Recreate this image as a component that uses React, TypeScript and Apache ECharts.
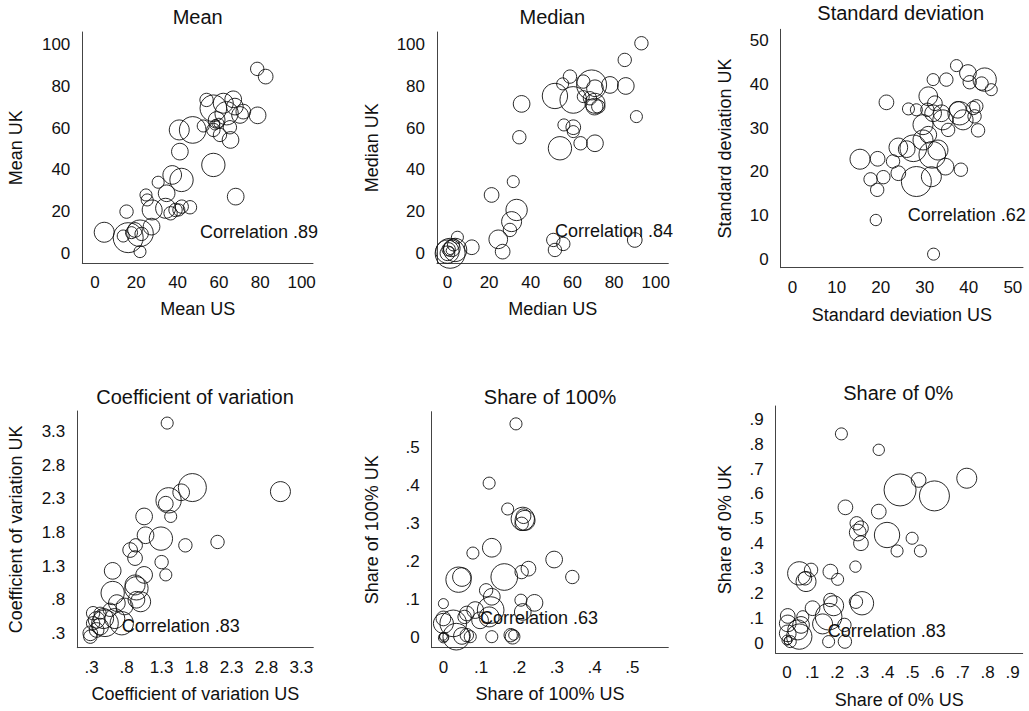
import React, { useEffect, useRef } from "react";
import * as echarts from "echarts";

// ---- Data: [US value, UK value, weight] ----
const meanData = [
  [78.5, 88.5, 20], [82.6, 84.8, 22], [78.7, 66.2, 25], [68.1, 27.2, 25], [57.3, 42.4, 35], [41.1, 48.8, 25],
  [40.8, 59.2, 30], [47.3, 59.2, 40], [41.9, 35.2, 35], [37.4, 37.6, 28], [30.6, 34.1, 18], [34.7, 28.8, 25],
  [24.7, 28, 18], [25.3, 25.6, 18], [34.2, 21.6, 30], [36.6, 19.2, 20], [39, 20.8, 20], [40.6, 20.8, 18],
  [46, 22.1, 20], [42, 22.4, 20], [27.7, 20.8, 30], [27.4, 12.8, 25], [15.3, 20, 20], [4.5, 10.1, 30],
  [13.7, 8.3, 18], [16.1, 7.5, 45], [21.8, 9.6, 40], [19.4, 11.2, 22], [22.6, 9.3, 20], [17.7, 9.9, 18],
  [21.8, 0.8, 18], [54, 73.6, 20], [57.3, 69.6, 40], [66.9, 73.9, 25], [62.1, 72, 30], [67.7, 70.4, 25],
  [71.8, 68, 22], [70.2, 66.4, 25], [58.9, 64, 25], [58, 61.6, 15], [58.5, 62.4, 12], [52.4, 61.1, 18],
  [60, 62.4, 15], [65.3, 60.5, 20], [65.6, 54.4, 25], [60.5, 56.8, 20], [57.3, 59.2, 20], [63.7, 67.2, 35],
];
const medianData = [
  [93.1, 100.8, 20], [85.1, 92.8, 20], [85.6, 80.3, 25], [90.7, 65.6, 18], [89.9, 6.4, 22], [50.8, 6.4, 20],
  [51.6, 1.6, 20], [55.6, 4.5, 20], [54, 50.4, 35], [55.9, 61.6, 18], [60.4, 60.5, 22], [60.4, 58.4, 18],
  [63.9, 52.8, 20], [70.8, 52.8, 25], [51.6, 75.5, 38], [58.8, 84.8, 20], [55.3, 81.3, 18], [60.4, 73.6, 40],
  [65.2, 82.4, 20], [69.2, 80.8, 45], [70.8, 79.2, 25], [78, 80.8, 25], [65.2, 75.2, 18], [68.4, 74.4, 20],
  [70.8, 72, 30], [72.4, 70.4, 20], [70.6, 70.4, 25], [35.6, 71.7, 25], [34.5, 55.7, 20], [31.6, 34.4, 18],
  [21.2, 28, 22], [33.2, 20.8, 32], [30.8, 15.2, 30], [30, 11.2, 20], [24.4, 6.7, 28], [26.5, 0.8, 22],
  [11.7, 2.9, 22], [0, 0.8, 35], [1.3, 0, 45], [2.1, 2.4, 25], [2.9, 4, 18], [4.8, 7.7, 18], [3.7, 1.6, 35],
  [0, 0, 22], [1.3, 1.3, 12], [0.6, 1.9, 20],
];
const sdData = [
  [32, 1.2, 18], [18.9, 9, 17], [19.2, 15.9, 20], [17.7, 18.3, 20], [20.6, 18.8, 20], [15.3, 22.9, 30],
  [19.3, 23, 22], [22.8, 22.4, 20], [24, 19.7, 22], [28.1, 17.8, 45], [31.5, 18.9, 30], [34.7, 21.2, 25],
  [38.2, 20.5, 20], [31.7, 23.9, 40], [33, 25, 30], [24, 25.6, 28], [25.9, 25.2, 25], [27.4, 25.4, 40],
  [29.6, 27.3, 30], [30.8, 28.5, 25], [29.6, 30.8, 30], [30.8, 37.3, 28], [21.3, 35.9, 22], [31.9, 41.1, 18],
  [34.9, 41.1, 20], [26.3, 34.4, 18], [28.1, 34.2, 18], [32.3, 35.7, 22], [31.9, 33.4, 25], [33.8, 33.4, 25],
  [34.1, 31.9, 30], [35.3, 29.6, 20], [37.9, 33.4, 35], [38.7, 31.9, 30], [37.5, 34.2, 25], [41, 34.6, 20],
  [41.7, 35, 20], [42.1, 29.5, 20], [37.2, 44.3, 18], [39.8, 42.6, 25], [40.2, 40.5, 20], [42.9, 40.2, 20],
  [43.6, 41.1, 35], [45.1, 38.8, 18], [41.3, 32.7, 20], [30.6, 34.2, 20],
];
const cvData = [
  [1.38, 3.43, 18], [3.0, 2.41, 30], [1.74, 2.47, 42], [1.58, 2.4, 25], [1.4, 2.28, 38], [1.36, 2.23, 22],
  [1.43, 2.04, 18], [1.05, 2.04, 25], [1.07, 1.76, 25], [1.29, 1.71, 35], [0.93, 1.61, 20], [0.85, 1.54, 22],
  [0.92, 1.42, 22], [1.64, 1.61, 20], [2.1, 1.66, 20], [1.3, 1.36, 20], [1.36, 1.17, 18], [1.05, 1.17, 25],
  [0.6, 1.23, 25], [0.92, 1.02, 30], [0.94, 0.97, 35], [0.6, 0.9, 35], [1.0, 0.77, 30], [0.94, 0.8, 25],
  [0.77, 0.7, 25], [0.66, 0.75, 25], [0.56, 0.65, 20], [0.42, 0.6, 18], [0.32, 0.6, 20], [0.37, 0.5, 25],
  [0.47, 0.52, 30], [0.63, 0.52, 30], [0.73, 0.45, 35], [0.42, 0.4, 25], [0.28, 0.3, 22], [0.28, 0.25, 20],
  [0.37, 0.35, 22], [0.49, 0.45, 40], [0.32, 0.45, 20],
];
const share100Data = [
  [0.192, 0.563, 18], [0.121, 0.407, 18], [0.17, 0.339, 18], [0.21, 0.313, 35], [0.212, 0.32, 22],
  [0.207, 0.3, 20], [0.216, 0.309, 30], [0.128, 0.237, 28], [0.078, 0.223, 18], [0.293, 0.206, 25],
  [0.225, 0.182, 22], [0.207, 0.173, 20], [0.341, 0.16, 20], [0.161, 0.16, 40], [0.04, 0.153, 38],
  [0.049, 0.16, 28], [0.113, 0.125, 20], [0.128, 0.108, 25], [0.205, 0.099, 18], [0.241, 0.092, 25],
  [0, 0.09, 15], [0, 0.051, 22], [0, 0.038, 30], [0.026, 0.038, 40], [0.034, 0.003, 40], [0.049, 0.005, 25],
  [0.056, 0.055, 20], [0.062, 0.064, 22], [0.084, 0.073, 25], [0.097, 0.046, 25], [0.125, 0.073, 40],
  [0.121, 0.055, 30], [0.21, 0.068, 25], [0.128, 0.003, 18], [0.183, 0.003, 22], [0.186, 0.007, 15],
  [0, 0, 15], [0, 0.004, 12], [0.002, 0.002, 14], [0.071, 0.003, 18], [0.062, 0.007, 20], [0.178, 0.007, 20],
];
const share0Data = [
  [0.217, 0.841, 18], [0.366, 0.777, 17], [0.717, 0.663, 30], [0.525, 0.656, 22], [0.451, 0.616, 48],
  [0.588, 0.592, 45], [0.233, 0.546, 22], [0.366, 0.529, 22], [0.278, 0.482, 20], [0.295, 0.462, 22],
  [0.282, 0.445, 25], [0.295, 0.402, 22], [0.399, 0.435, 38], [0.499, 0.422, 18], [0.439, 0.371, 18],
  [0.532, 0.371, 18], [0.273, 0.308, 17], [0.049, 0.281, 35], [0.096, 0.295, 20], [0.076, 0.248, 30],
  [0.072, 0.261, 20], [0.173, 0.288, 22], [0.202, 0.257, 18], [0.173, 0.174, 20], [0.186, 0.151, 30],
  [0.275, 0.167, 20], [0.299, 0.161, 35], [0.102, 0.141, 22], [0.003, 0.11, 22], [0.063, 0.107, 18],
  [0.142, 0.078, 30], [0.166, 0.107, 40], [0.229, 0.074, 20], [0.166, 0.007, 18], [0.231, 0.007, 20],
  [0.003, 0.08, 25], [0.003, 0.04, 25], [0.049, 0.027, 38], [0.043, 0.054, 30], [0.056, 0.074, 25],
  [0, 0.013, 15], [0.004, 0.011, 12], [0.013, 0.007, 18],
];

const meanTicks = [0, 20, 40, 60, 80, 100];
const sdTicks = [0, 10, 20, 30, 40, 50];
const cvTicks = [0.3, 0.8, 1.3, 1.8, 2.3, 2.8, 3.3];
const share100Ticks = [0, 0.1, 0.2, 0.3, 0.4, 0.5];
const share0Ticks = [0, 0.1, 0.2, 0.3, 0.4, 0.5, 0.6, 0.7, 0.8, 0.9];

const titles = ["Mean", "Median", "Standard deviation", "Coefficient of variation", "Share of 100%", "Share of 0%"];
const correlations = [".89", ".84", ".62", ".83", ".63", ".83"];

// ---- Layout ----
const FONT = "'Liberation Sans', Arial, Helvetica, sans-serif";
const panels = [
  { data: meanData, ticks: meanTicks, grid: [82.3, 32, 230.7, 231.3], xr: [-6.1, 105.5], yr: [-4.8, 106.2],
    title: [197.7, 17.3], corr: [200, 232.3], xGap: 37, yGap: 57 },
  { data: medianData, ticks: meanTicks, grid: [437, 32, 231.3, 231.3], xr: [-5, 106], yr: [-4.8, 106.2],
    title: [552.3, 17.3], corr: [555, 230.7], xGap: 37, yGap: 56 },
  { data: sdData, ticks: sdTicks, grid: [780.7, 29.3, 242.3, 238.4], xr: [-2.7, 52.3], yr: [-1.9, 52.6],
    title: [900.7, 13.3], corr: [907.7, 215], xGap: 38, yGap: 47 },
  { data: cvData, ticks: cvTicks, grid: [77.3, 411, 236, 236.7], xr: [0.094, 3.47], yr: [0.086, 3.61],
    title: [195, 397.3], corr: [121.7, 626], xGap: 37, yGap: 52 },
  { data: share100Data, ticks: share100Ticks, grid: [431.7, 411.7, 236.6, 236], xr: [-0.031, 0.595], yr: [-0.026, 0.595],
    title: [550, 397.3], corr: [480, 618.3], xGap: 37, yGap: 51 },
  { data: share0Data, ticks: share0Ticks, grid: [775.7, 406, 247, 247.3], xr: [-0.045, 0.94], yr: [-0.04, 0.953],
    title: [898.3, 392.7], corr: [827.7, 630.7], xGap: 38, yGap: 42 },
];

const fmt = (v: number) => {
  let s = String(+Number(v).toFixed(2));
  if (s.startsWith("0.")) s = s.slice(1);
  return s;
};

export default function App() {
  const ref = useRef<HTMLDivElement>(null);
  useEffect(() => {
    if (!ref.current) return;
    const chart = echarts.init(ref.current, null, { renderer: "svg" });
    const axisCommon = (p: any, name: string, range: number[], isX: boolean, idx: number) => ({
      gridIndex: idx,
      type: "value",
      min: range[0],
      max: range[1],
      name,
      nameLocation: "middle",
      nameGap: isX ? p.xGap : p.yGap,
      nameTextStyle: { fontSize: 18, color: "#111", fontFamily: FONT },
      axisLine: { show: true, onZero: false, lineStyle: { color: "#444", width: 1 } },
      axisTick: { show: false },
      splitLine: { show: false },
      axisLabel: {
        customValues: p.ticks,
        formatter: fmt,
        fontSize: 17,
        color: "#111",
        fontFamily: FONT,
        margin: isX ? 11 : 12,
      },
    });
    const option: any = {
      animation: false,
      backgroundColor: "#fff",
      grid: panels.map((p) => ({ left: p.grid[0], top: p.grid[1], width: p.grid[2], height: p.grid[3], containLabel: false })),
      xAxis: panels.map((p, i) => axisCommon(p, titles[i] + " US", p.xr, true, i)),
      yAxis: panels.map((p, i) => axisCommon(p, titles[i] + " UK", p.yr, false, i)),
      series: panels.map((p, i) => ({
        type: "scatter",
        xAxisIndex: i,
        yAxisIndex: i,
        data: p.data,
        clip: false,
        silent: true,
        symbol: "circle",
        symbolSize: (v: number[]) => (v[2] * 2) / 3,
        itemStyle: { color: "rgba(0,0,0,0)", borderColor: "#111", borderWidth: 0.9, opacity: 1 },
      })),
      graphic: [
        ...panels.map((p, i) => ({
          type: "text",
          x: p.title[0],
          y: p.title[1],
          silent: true,
          style: { text: titles[i], fontSize: 20, fill: "#111", fontFamily: FONT, align: "center", verticalAlign: "middle", textAlign: "center", textVerticalAlign: "middle" },
        })),
        ...panels.map((p, i) => ({
          type: "text",
          x: p.corr[0],
          y: p.corr[1],
          silent: true,
          style: { text: "Correlation " + correlations[i], fontSize: 18, fill: "#111", fontFamily: FONT, align: "left", verticalAlign: "middle", textAlign: "left", textVerticalAlign: "middle" },
        })),
      ],
    };
    chart.setOption(option);
    return () => chart.dispose();
  }, []);
  return <div ref={ref} style={{ position: "fixed", left: 0, top: 0, width: 1029, height: 711, background: "#fff" }} />;
}
